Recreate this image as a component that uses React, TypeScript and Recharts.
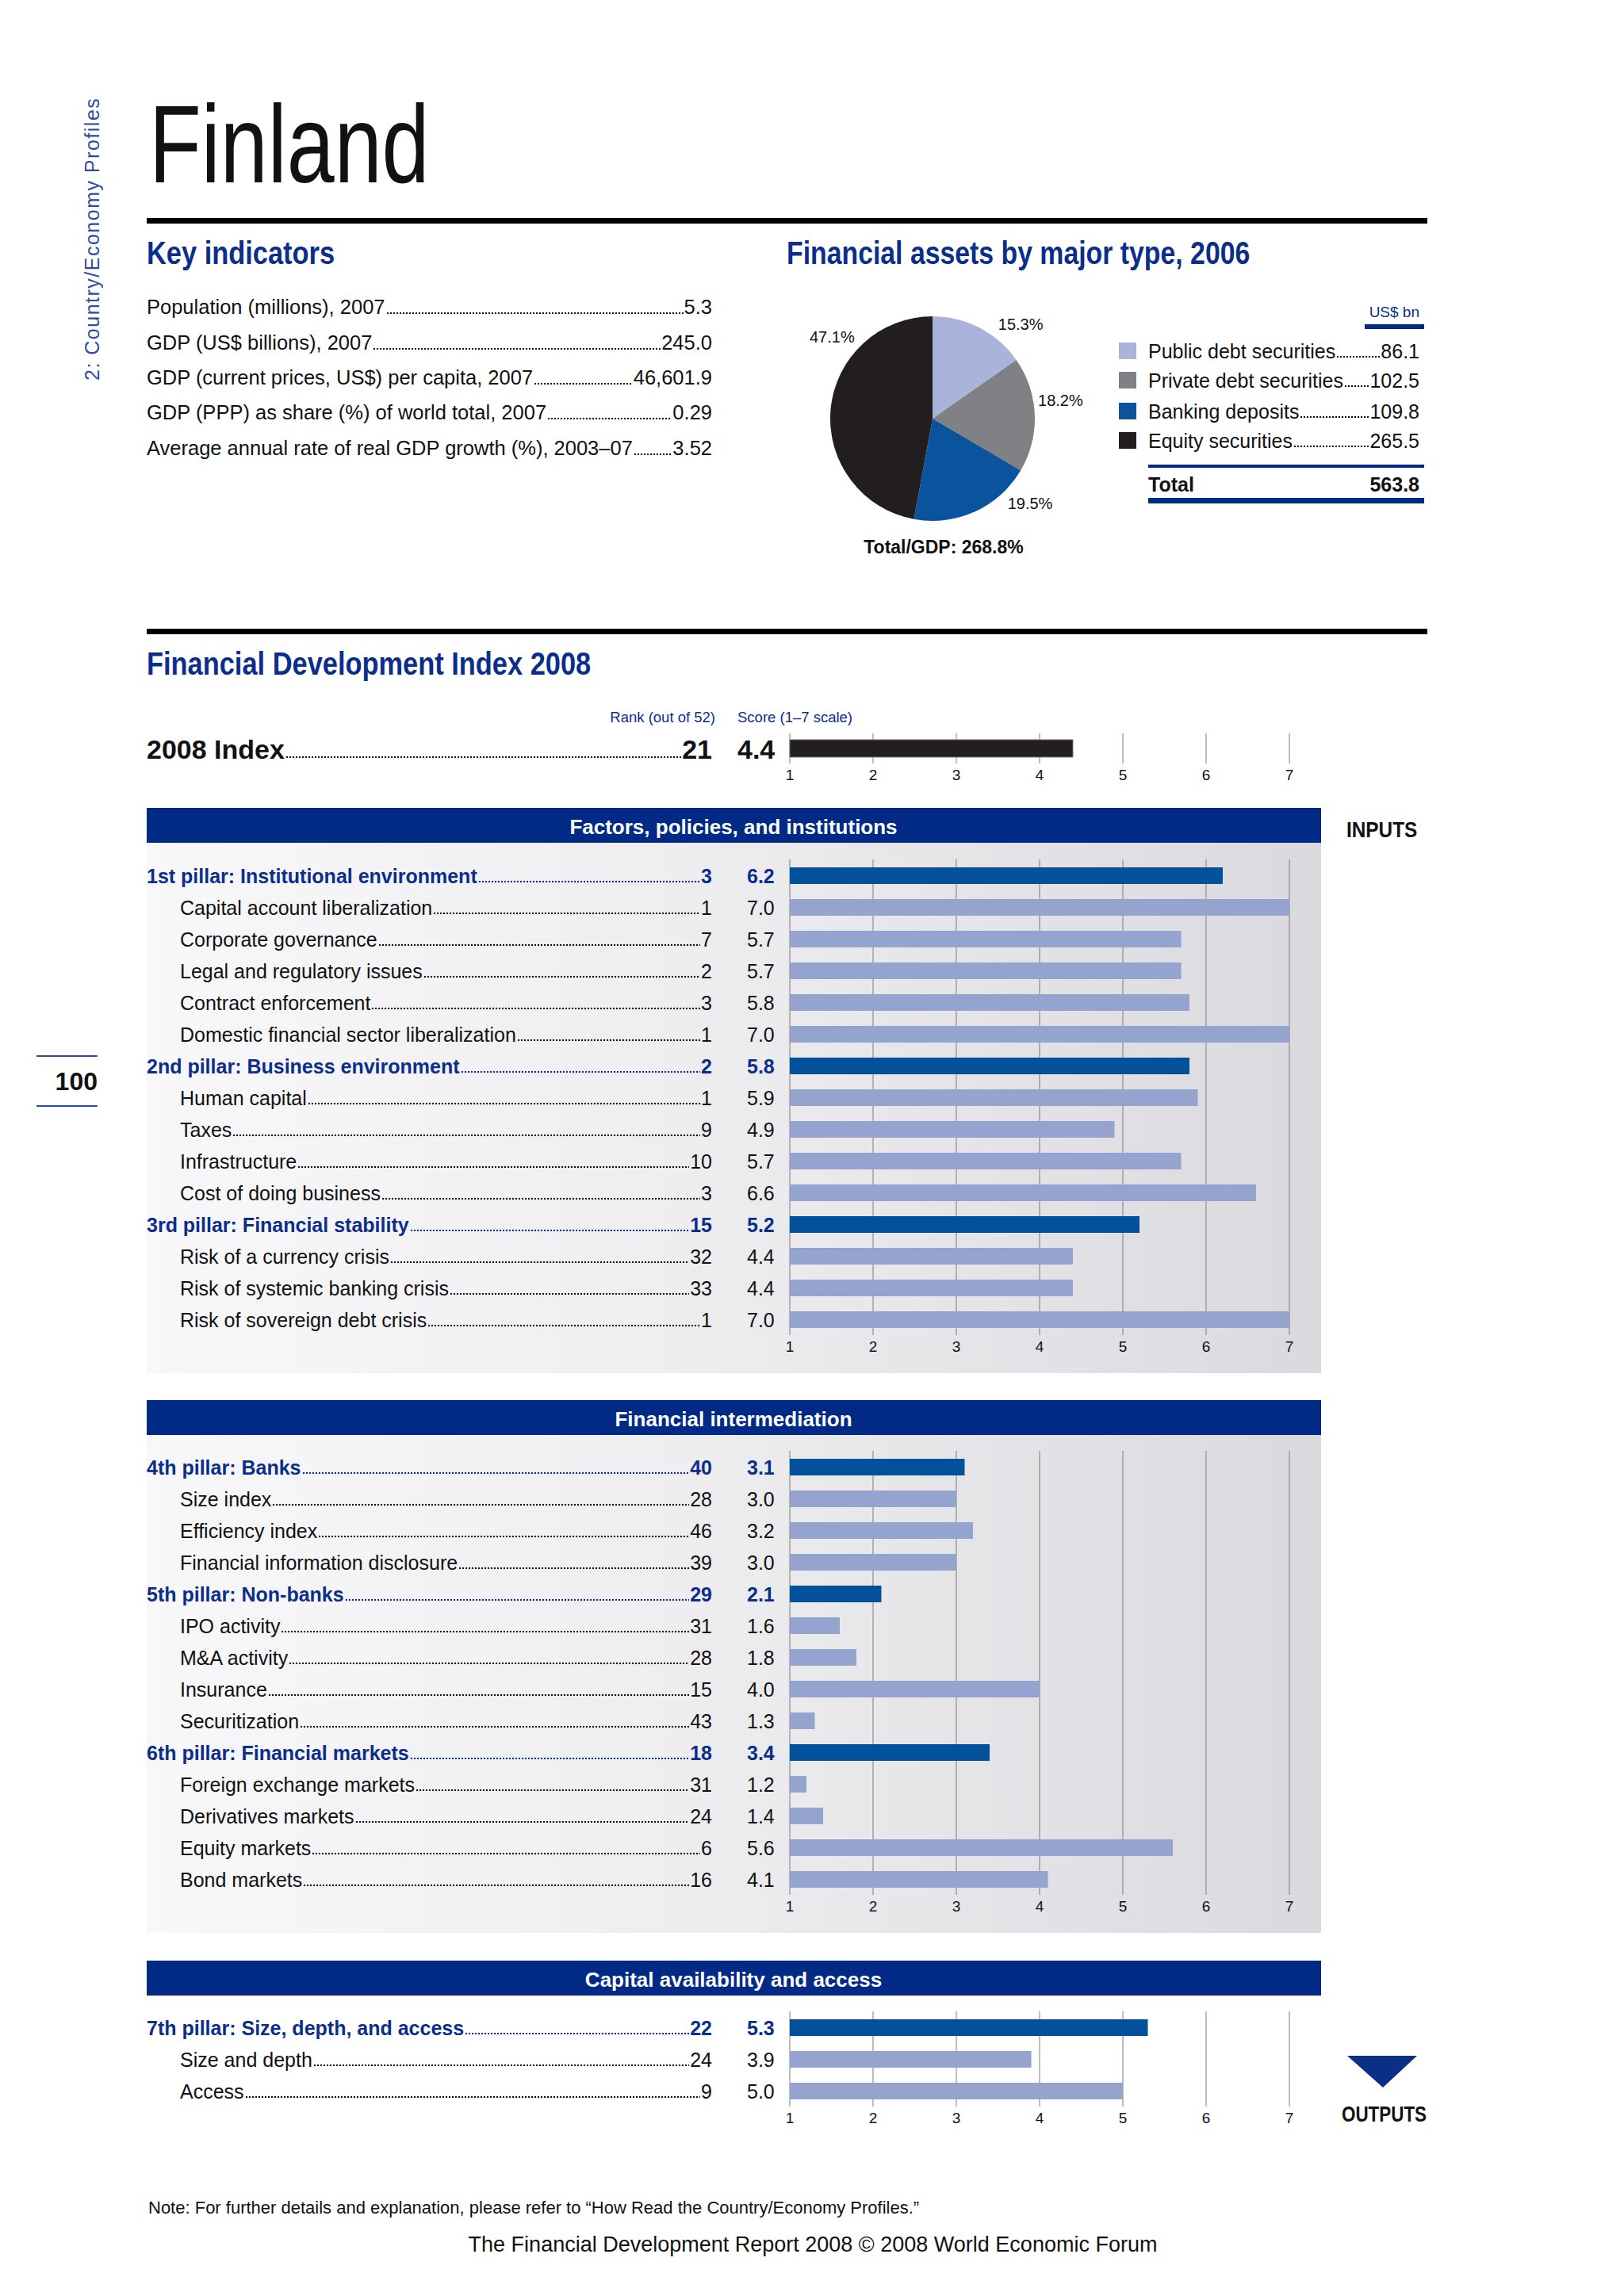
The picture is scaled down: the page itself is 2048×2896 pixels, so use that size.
import React from 'react';
import { BarChart, Bar, XAxis, YAxis, CartesianGrid, Cell, PieChart, Pie } from 'recharts';

// ─── Data ──────────────────────────────────────────────────────────────────
const KEY_LABELS = [
  'Population (millions), 2007 ',
  'GDP (US$ billions), 2007 ',
  'GDP (current prices, US$) per capita, 2007 ',
  'GDP (PPP) as share (%) of world total, 2007 ',
  'Average annual rate of real GDP growth (%), 2003–07 ',
];
const KEY_VALUES = ['5.3', '245.0', '46,601.9', '0.29', '3.52'];

const ASSET_TYPES = ['Public debt securities', 'Private debt securities', 'Banking deposits ', 'Equity securities '];
const ASSET_VALUES = [86.1, 102.5, 109.8, 265.5];
const ASSET_TOTAL = '563.8';
const TOTAL_GDP = '268.8%';

const INDEX_RANK = 21;
const INDEX_SCORE = 4.4;

const SCALE_TICKS = [1, 2, 3, 4, 5, 6, 7];

const S1_NAMES = [
  '1st pillar: Institutional environment',
  'Capital account liberalization',
  'Corporate governance',
  'Legal and regulatory issues ',
  'Contract enforcement',
  'Domestic financial sector liberalization',
  '2nd pillar: Business environment',
  'Human capital ',
  'Taxes',
  'Infrastructure ',
  'Cost of doing business ',
  '3rd pillar: Financial stability',
  'Risk of a currency crisis',
  'Risk of systemic banking crisis',
  'Risk of sovereign debt crisis ',
];
const S1_RANKS = [3, 1, 7, 2, 3, 1, 2, 1, 9, 10, 3, 15, 32, 33, 1];
const S1_SCORES = [6.2, 7.0, 5.7, 5.7, 5.8, 7.0, 5.8, 5.9, 4.9, 5.7, 6.6, 5.2, 4.4, 4.4, 7.0];
const S1_PILLAR = [true, false, false, false, false, false, true, false, false, false, false, true, false, false, false];

const S2_NAMES = [
  '4th pillar: Banks ',
  'Size index',
  'Efficiency index',
  'Financial information disclosure',
  '5th pillar: Non-banks',
  'IPO activity',
  'M&A activity',
  'Insurance ',
  'Securitization',
  '6th pillar: Financial markets',
  'Foreign exchange markets ',
  'Derivatives markets ',
  'Equity markets',
  'Bond markets ',
];
const S2_RANKS = [40, 28, 46, 39, 29, 31, 28, 15, 43, 18, 31, 24, 6, 16];
const S2_SCORES = [3.1, 3.0, 3.2, 3.0, 2.1, 1.6, 1.8, 4.0, 1.3, 3.4, 1.2, 1.4, 5.6, 4.1];
const S2_PILLAR = [true, false, false, false, true, false, false, false, false, true, false, false, false, false];

const S3_NAMES = ['7th pillar: Size, depth, and access', 'Size and depth', 'Access'];
const S3_RANKS = [22, 24, 9];
const S3_SCORES = [5.3, 3.9, 5.0];
const S3_PILLAR = [true, false, false];

// ─── Styling ───────────────────────────────────────────────────────────────
const SANS = "'Liberation Sans', Arial, Helvetica, sans-serif";
const NAVY = '#002a86';
const TITLE_BLUE = '#0c2e8b';
const PILLAR_BAR = '#03519b';
const SUB_BAR = '#95a4cf';
const GRID = '#7c7c7c';
const PIE_COLORS = ['#aab4da', '#808184', '#0b539c', '#221e20'];
// where each percentage label sits around the pie (degrees, counter-clockwise from 3 o'clock)
const PIE_LABEL_ANGLES = [47, 8, -41, 141];

type Anchor = 'start' | 'middle' | 'end';

function Txt({
  x, y, size, children, weight = 400, color = '#111', anchor = 'start', squeeze = 1, style = {},
}: {
  x: number; y: number; size: number; children: React.ReactNode; weight?: number; color?: string;
  anchor?: Anchor; squeeze?: number; style?: React.CSSProperties;
}) {
  const base: React.CSSProperties = {
    position: 'absolute',
    top: y - 0.8465 * size,
    fontSize: size,
    lineHeight: `${size}px`,
    fontWeight: weight,
    color,
    fontFamily: SANS,
    whiteSpace: 'nowrap',
    ...style,
  };
  if (anchor === 'end') return <div style={{ ...base, right: 2048 - x, textAlign: 'right' }}>{children}</div>;
  if (anchor === 'middle') return <div style={{ ...base, left: x, transform: 'translateX(-50%)' }}>{children}</div>;
  const sq: React.CSSProperties = squeeze !== 1 ? { transform: `scaleX(${squeeze})`, transformOrigin: 'left center' } : {};
  return <div style={{ ...base, left: x, ...sq }}>{children}</div>;
}

// dotted leader drawn as a background so it sits on the text baseline
function Dots({ baseline }: { baseline: number }) {
  return (
    <span
      style={{
        flex: 1,
        minWidth: 0,
        margin: '0 1px',
        backgroundImage: 'radial-gradient(circle at 50% 50%, currentColor 1.1px, transparent 1.6px)',
        backgroundSize: '4px 4px',
        backgroundRepeat: 'repeat-x',
        backgroundPosition: `0 ${baseline - 3.5}px`,
      }}
    />
  );
}

function Leader({
  x, y, width, size, label, value, weight = 400, color = '#111',
}: {
  x: number; y: number; width: number; size: number; label: string; value: string;
  weight?: number; color?: string;
}) {
  return (
    <div
      style={{
        position: 'absolute', left: x, top: y - 0.8465 * size, width, display: 'flex',
        fontSize: size, lineHeight: `${size}px`, fontFamily: SANS, fontWeight: weight, color,
        whiteSpace: 'nowrap',
      }}
    >
      <span>{label}</span>
      <Dots baseline={0.8465 * size} />
      <span>{value}</span>
    </div>
  );
}

interface Row { name: string; rank: number; score: number; pillar: boolean }

function buildRows(names: string[], ranks: number[], scores: number[], pillars: boolean[]): Row[] {
  return names.map((name, i) => ({ name, rank: ranks[i], score: scores[i], pillar: pillars[i] }));
}

function RowTick(props: any) {
  const { y, payload, rows } = props;
  const row: Row | undefined = rows.find((r: Row) => r.name === payload.value);
  if (!row) return null;
  const indent = row.pillar ? 0 : 42;
  return (
    <foreignObject x={0} y={y - 19} width={810} height={40}>
      <div
        style={{
          position: 'relative', width: 810, height: 40, fontFamily: SANS, fontSize: 25,
          lineHeight: '40px', color: row.pillar ? TITLE_BLUE : '#111',
          fontWeight: row.pillar ? 700 : 400, whiteSpace: 'nowrap',
        }}
      >
        <div style={{ position: 'absolute', left: indent, top: 0, width: 713 - indent, display: 'flex' }}>
          <span>{row.name}</span>
          <Dots baseline={28.7} />
          <span>{row.rank}</span>
        </div>
        <div style={{ position: 'absolute', left: 757, top: 0 }}>{row.score.toFixed(1)}</div>
      </div>
    </foreignObject>
  );
}

function PillarChart({
  rows, top, height, marginTop, marginBottom,
}: { rows: Row[]; top: number; height: number; marginTop: number; marginBottom: number }) {
  return (
    <div style={{ position: 'absolute', left: 185, top, width: 1481, height }}>
      <BarChart
        layout="vertical"
        width={1481}
        height={height}
        data={rows}
        margin={{ top: marginTop, right: 40, bottom: marginBottom, left: 0 }}
        barSize={21}
      >
        <CartesianGrid horizontal={false} stroke={GRID} strokeWidth={1} />
        <XAxis
          type="number"
          domain={[1, 7]}
          ticks={SCALE_TICKS}
          axisLine={false}
          tickLine={false}
          height={30}
          tick={{ fontSize: 19, fill: '#111', fontFamily: SANS }}
        />
        <YAxis
          type="category"
          dataKey="name"
          width={811}
          axisLine={false}
          tickLine={false}
          interval={0}
          tick={(p: any) => <RowTick {...p} rows={rows} />}
        />
        <Bar dataKey="score" isAnimationActive={false}>
          {rows.map((r, i) => (
            <Cell key={i} fill={r.pillar ? PILLAR_BAR : SUB_BAR} />
          ))}
        </Bar>
      </BarChart>
    </div>
  );
}

function SectionBand({ top, title }: { top: number; title: string }) {
  return (
    <div
      style={{
        position: 'absolute', left: 185, top, width: 1481, height: 44, background: NAVY,
      }}
    >
      <Txt x={740} y={33} size={26} weight={700} color="#fff" anchor="middle">{title}</Txt>
    </div>
  );
}

const PANEL_BG = 'linear-gradient(90deg, #f8f8fa 0%, #eeeef1 45%, #dadade 100%)';

export default function App() {
  const s1 = buildRows(S1_NAMES, S1_RANKS, S1_SCORES, S1_PILLAR);
  const s2 = buildRows(S2_NAMES, S2_RANKS, S2_SCORES, S2_PILLAR);
  const s3 = buildRows(S3_NAMES, S3_RANKS, S3_SCORES, S3_PILLAR);
  const pieData = ASSET_TYPES.map((name, i) => ({ name, value: ASSET_VALUES[i] }));
  const indexData = [{ name: '2008 Index', score: INDEX_SCORE }];

  const legendY = [452, 489, 528, 565];

  return (
    <div
      style={{
        position: 'absolute', left: 0, top: 0, width: 2048, height: 2896, background: '#fff',
        overflow: 'hidden', fontFamily: SANS,
      }}
    >
      {/* side label + page number */}
      <div
        style={{
          position: 'absolute', left: 101, top: 124, height: 356, width: 30,
          writingMode: 'vertical-rl', transform: 'rotate(180deg)', fontFamily: SANS,
          fontSize: 25, letterSpacing: 1.5, color: '#2c4ea2', whiteSpace: 'nowrap',
          lineHeight: '30px',
        }}
      >
        2: Country/Economy Profiles
      </div>
      <div style={{ position: 'absolute', left: 46, top: 1331, width: 77, height: 2, background: '#2d4ea3' }} />
      <Txt x={123} y={1375} size={32} weight={700} anchor="end">100</Txt>
      <div style={{ position: 'absolute', left: 46, top: 1394, width: 77, height: 2, background: '#2d4ea3' }} />

      {/* title */}
      <Txt x={188} y={231} size={140} squeeze={0.77} color="#111">Finland</Txt>
      <div style={{ position: 'absolute', left: 185, top: 275, width: 1615, height: 7, background: '#000' }} />

      {/* key indicators */}
      <Txt x={185} y={333} size={40} weight={700} squeeze={0.86} color={TITLE_BLUE}>Key indicators</Txt>
      {KEY_LABELS.map((label, i) => (
        <Leader key={label} x={185} y={397 + i * 44.3} width={713} size={25.5} label={label} value={KEY_VALUES[i]} />
      ))}

      {/* financial assets */}
      <Txt x={992} y={333} size={40} weight={700} squeeze={0.845} color={TITLE_BLUE}>
        Financial assets by major type, 2006
      </Txt>
      <div style={{ position: 'absolute', left: 921, top: 323 }}>
        <PieChart width={500} height={400}>
          <Pie
            data={pieData}
            dataKey="value"
            cx={250}
            cy={200}
            outerRadius={129}
            startAngle={90}
            endAngle={-270}
            stroke="none"
            isAnimationActive={false}
            labelLine={false}
            label={(p: any) => {
              const a = (PIE_LABEL_ANGLES[p.index] * Math.PI) / 180;
              const r = p.outerRadius + 34;
              return (
                <text
                  x={p.cx + r * Math.cos(a)}
                  y={p.cy - r * Math.sin(a)}
                  textAnchor="middle"
                  dominantBaseline="central"
                  fontSize={20}
                  fontFamily={SANS}
                  fill="#111"
                >
                  {(p.percent * 100).toFixed(1)}%
                </text>
              );
            }}
          >
            {pieData.map((d, i) => (
              <Cell key={d.name} fill={PIE_COLORS[i]} />
            ))}
          </Pie>
        </PieChart>
      </div>
      <Txt x={1190} y={698} size={23} weight={700} anchor="middle">Total/GDP: {TOTAL_GDP}</Txt>

      <Txt x={1790} y={400} size={19} color={TITLE_BLUE} anchor="end">US$ bn</Txt>
      <div style={{ position: 'absolute', left: 1721, top: 409, width: 75, height: 6, background: NAVY }} />
      {ASSET_TYPES.map((name, i) => (
        <React.Fragment key={name}>
          <div
            style={{
              position: 'absolute', left: 1411, top: legendY[i] - 20, width: 22, height: 21,
              background: PIE_COLORS[i],
            }}
          />
          <Leader x={1448} y={legendY[i]} width={342} size={25} label={name} value={ASSET_VALUES[i].toFixed(1)} />
        </React.Fragment>
      ))}
      <div style={{ position: 'absolute', left: 1448, top: 586, width: 348, height: 4, background: NAVY }} />
      <Txt x={1448} y={620} size={25} weight={700}>Total</Txt>
      <Txt x={1790} y={620} size={25} weight={700} anchor="end">{ASSET_TOTAL}</Txt>
      <div style={{ position: 'absolute', left: 1448, top: 628, width: 348, height: 7, background: NAVY }} />

      {/* FDI 2008 */}
      <div style={{ position: 'absolute', left: 185, top: 793, width: 1615, height: 7, background: '#000' }} />
      <Txt x={185} y={851} size={40} weight={700} squeeze={0.86} color={TITLE_BLUE}>
        Financial Development Index 2008
      </Txt>
      <Txt x={902} y={912} size={18.5} color={TITLE_BLUE} anchor="end">Rank (out of 52)</Txt>
      <Txt x={930} y={912} size={18.5} color={TITLE_BLUE}>Score (1–7 scale)</Txt>
      <Leader x={185} y={957} width={713} size={34} weight={700} label="2008 Index" value={String(INDEX_RANK)} />
      <Txt x={930} y={957} size={34} weight={700}>{INDEX_SCORE.toFixed(1)}</Txt>
      <div style={{ position: 'absolute', left: 976, top: 925 }}>
        <BarChart
          layout="vertical"
          width={670}
          height={72}
          data={indexData}
          margin={{ top: 0, right: 20, bottom: 4, left: 20 }}
          barSize={22}
        >
          <CartesianGrid horizontal={false} stroke={GRID} />
          <XAxis
            type="number"
            domain={[1, 7]}
            ticks={SCALE_TICKS}
            axisLine={false}
            tickLine={false}
            height={30}
            tick={{ fontSize: 19, fill: '#111', fontFamily: SANS }}
          />
          <YAxis type="category" dataKey="name" hide />
          <Bar dataKey="score" fill="#231f20" stroke="#777" strokeWidth={1} isAnimationActive={false} />
        </BarChart>
      </div>

      {/* section 1 */}
      <SectionBand top={1019} title="Factors, policies, and institutions" />
      <Txt x={1698} y={1057} size={28} weight={700} squeeze={0.87}>INPUTS</Txt>
      <div style={{ position: 'absolute', left: 185, top: 1063, width: 1481, height: 669, background: PANEL_BG }} />
      <PillarChart rows={s1} top={1063} height={669} marginTop={21} marginBottom={18} />

      {/* section 2 */}
      <SectionBand top={1766} title="Financial intermediation" />
      <div style={{ position: 'absolute', left: 185, top: 1810, width: 1481, height: 628, background: PANEL_BG }} />
      <PillarChart rows={s2} top={1810} height={628} marginTop={20} marginBottom={18} />

      {/* section 3 */}
      <SectionBand top={2473} title="Capital availability and access" />
      <PillarChart rows={s3} top={2517} height={175} marginTop={20} marginBottom={5} />
      <svg style={{ position: 'absolute', left: 1699, top: 2593 }} width={88} height={41}>
        <polygon points="0,0 88,0 45,40" fill="#0b2f87" />
      </svg>
      <Txt x={1692} y={2677} size={28} weight={700} squeeze={0.8}>OUTPUTS</Txt>

      {/* notes */}
      <Txt x={187} y={2793} size={22}>
        Note: For further details and explanation, please refer to “How Read the Country/Economy Profiles.”
      </Txt>
      <Txt x={1025} y={2841} size={27} anchor="middle">
        The Financial Development Report 2008 © 2008 World Economic Forum
      </Txt>
    </div>
  );
}
